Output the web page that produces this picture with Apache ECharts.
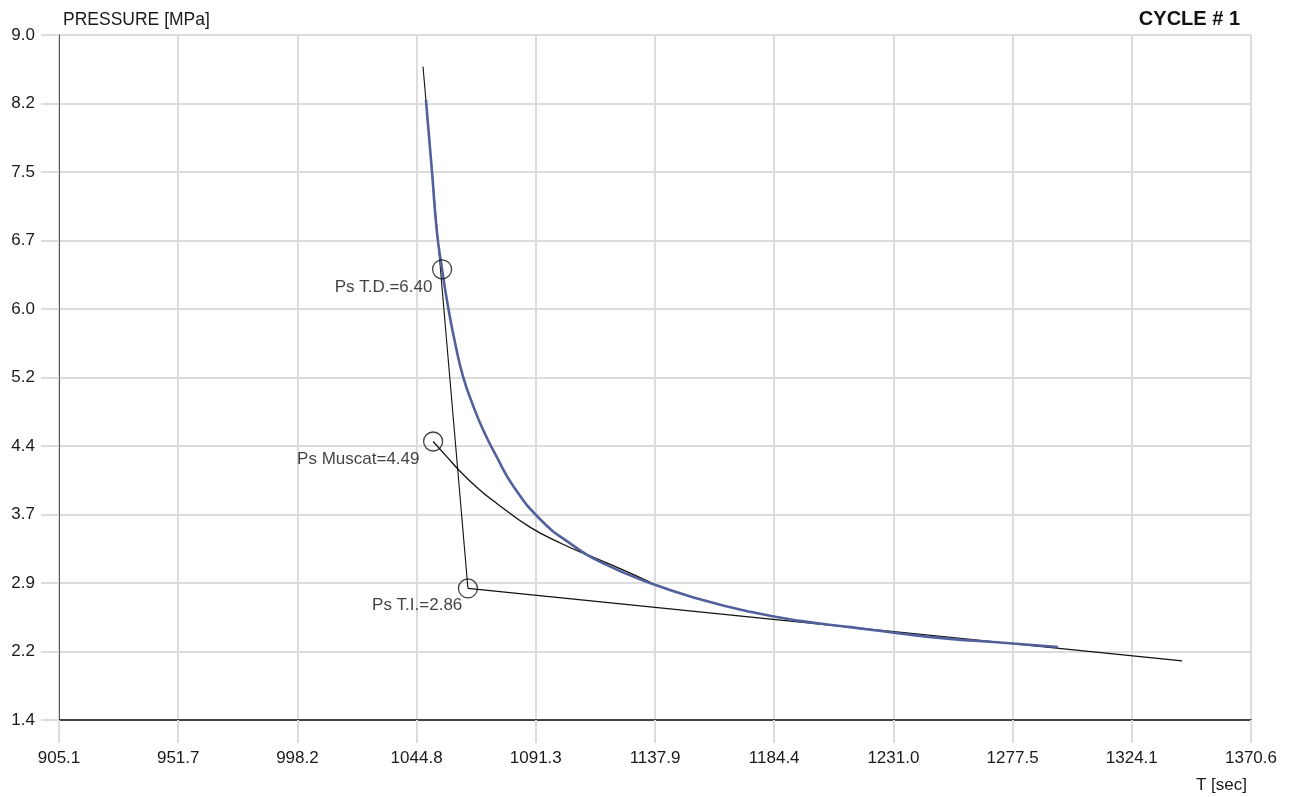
<!DOCTYPE html>
<html>
<head>
<meta charset="utf-8">
<script src="https://cdn.jsdelivr.net/npm/echarts@6/dist/echarts.min.js"></script>
<style>
  html, body { margin: 0; padding: 0; background: #ffffff; }
  #chart { width: 1300px; height: 797px; }
</style>
</head>
<body>
<div id="chart"></div>
<script>
// ---- axes: time [sec] and pressure [MPa] ----
const T_MIN = 905.1, T_MAX = 1370.6, T_STEP = 46.55;
const P_MIN = 1.4, P_MAX = 9.0, P_STEP = 0.76;
const xTickLabels = ['905.1', '951.7', '998.2', '1044.8', '1091.3', '1137.9', '1184.4', '1231.0', '1277.5', '1324.1', '1370.6'];
const yTickLabels = ['1.4', '2.2', '2.9', '3.7', '4.4', '5.2', '6.0', '6.7', '7.5', '8.2', '9.0'];

// ---- measured pressure decay after shut-in ----
const decayT = [1048.4, 1050.8, 1052.7, 1054.7, 1057.0, 1059.8, 1062.9, 1066.8, 1070.7, 1076.2, 1082.4, 1092.9, 1104.7, 1117.5, 1135.9, 1155.4, 1175.0, 1194.5, 1214.0, 1233.5, 1253.1, 1272.6, 1295.2];
const decayP = [8.28, 7.47, 6.81, 6.40, 5.99, 5.58, 5.21, 4.89, 4.62, 4.31, 4.00, 3.63, 3.36, 3.14, 2.92, 2.74, 2.60, 2.50, 2.43, 2.36, 2.30, 2.26, 2.21];

// ---- Muscat fit curve ----
const muscatT = [1051.2, 1056.6, 1061.7, 1069.1, 1076.2, 1089.0, 1101.9, 1112.5, 1124.2, 1135.9];
const muscatP = [4.49, 4.32, 4.16, 3.96, 3.80, 3.54, 3.35, 3.22, 3.08, 2.93];

// ---- straight lines: tangent through T.D. and late-time line from T.I. ----
const tdLineT = [1047.25, 1064.8];
const tdLineP = [8.65, 2.86];
const tiLineT = [1064.8, 1343.7];
const tiLineP = [2.86, 2.055];

// ---- picked closure pressures ----
const pickNames = ['Ps T.D.', 'Ps Muscat', 'Ps T.I.'];
const pickT = [1054.7, 1051.2, 1064.8];
const pickP = [6.40, 4.49, 2.86];

// pick a narrow face when the system has one
function hasFont(name) {
  const ctx = document.createElement('canvas').getContext('2d');
  const probe = 'Ps Muscat=4.49 0123456789';
  ctx.font = '20px monospace';
  const a = ctx.measureText(probe).width;
  ctx.font = '20px "' + name + '", monospace';
  const b = ctx.measureText(probe).width;
  return Math.abs(a - b) > 0.5;
}
const NARROW = hasFont('Liberation Sans Narrow');
const FONT = NARROW ? '"Liberation Sans Narrow", "Liberation Sans", Arial, sans-serif'
                    : '"Liberation Sans", Arial, sans-serif';
const FS = NARROW ? 20 : 17;
const FS_TITLE = NARROW ? 21 : 17.5;

// data are plotted relative to the axis origin so ticks start at the axis minimum
const toXY = (ts, ps) => ts.map((t, i) => [t - T_MIN, ps[i] - P_MIN]);

const GRID = { left: 59, right: 49, top: 35, bottom: 77 };
const LABEL_OFFSETS = [[0.5, 18], [-3.5, 17.5], [4.5, 17]];

const gridLine = { show: true, lineStyle: { color: '#dcdcdc', width: 2 } };

const option = {
  animation: false,
  backgroundColor: '#ffffff',
  grid: Object.assign({ show: true, borderColor: '#3a3a3a', borderWidth: 1, containLabel: false, outerBoundsMode: 'none' }, GRID),
  xAxis: {
    type: 'value',
    min: 0,
    max: +(T_MAX - T_MIN).toFixed(2),
    interval: T_STEP,
    axisLine: { show: true, lineStyle: { color: '#111', width: 1.5 } },
    axisTick: { show: true, length: 23, lineStyle: { color: '#dcdcdc', width: 2 } },
    splitLine: gridLine,
    axisLabel: {
      show: true, showMinLabel: true, showMaxLabel: true, hideOverlap: false,
      margin: 30, color: '#1a1a1a', fontFamily: FONT, fontSize: FS,
      formatter: v => xTickLabels[Math.round(v / T_STEP)]
    }
  },
  yAxis: {
    type: 'value',
    min: 0,
    max: +(P_MAX - P_MIN).toFixed(2),
    interval: P_STEP,
    axisLine: { show: true, lineStyle: { color: '#555', width: 1 } },
    axisTick: { show: true, length: 18, lineStyle: { color: '#dcdcdc', width: 2 } },
    splitLine: gridLine,
    axisLabel: {
      show: true, showMinLabel: true, showMaxLabel: true, hideOverlap: false,
      margin: 24, color: '#1a1a1a', fontFamily: FONT, fontSize: FS,
      formatter: v => yTickLabels[Math.round(v / P_STEP)]
    }
  },
  graphic: [
    { type: 'text', left: 63, top: 11, z: 10,
      style: { text: 'PRESSURE [MPa]', fill: '#1a1a1a', font: FS_TITLE + 'px ' + FONT } },
    { type: 'text', right: 60, top: 9, z: 10,
      style: { text: 'CYCLE # 1', fill: '#111', font: 'bold 20px "Liberation Sans", Arial, sans-serif' } },
    { type: 'text', right: 53, top: 777, z: 10,
      style: { text: 'T [sec]', fill: '#1a1a1a', font: FS + 'px ' + FONT } }
  ],
  series: [
    {
      name: 'Muscat', type: 'line', data: toXY(muscatT, muscatP),
      smooth: 0.5, showSymbol: false, z: 2,
      lineStyle: { color: '#111', width: 1.3 }
    },
    {
      name: 'T.D. tangent', type: 'line', data: toXY(tdLineT, tdLineP),
      showSymbol: false, z: 2, lineStyle: { color: '#111', width: 1.1 }
    },
    {
      name: 'T.I. line', type: 'line', data: toXY(tiLineT, tiLineP),
      showSymbol: false, z: 2, lineStyle: { color: '#111', width: 1.3 }
    },
    {
      name: 'Pressure', type: 'line', data: toXY(decayT, decayP),
      smooth: 0.5, showSymbol: false, z: 3,
      lineStyle: { color: '#52609b', width: 2.6 }
    },
    {
      name: 'Picks', type: 'scatter', z: 4,
      symbol: 'circle', symbolSize: 19,
      itemStyle: { color: 'rgba(0,0,0,0)', borderColor: '#111', borderWidth: 1.3 },
      data: pickT.map((t, i) => ({
        value: [t - T_MIN, pickP[i] - P_MIN],
        label: { offset: LABEL_OFFSETS[i] }
      })),
      label: {
        show: true, position: 'left', distance: 0,
        color: '#111', fontFamily: FONT, fontSize: FS,
        formatter: p => pickNames[p.dataIndex] + '=' + pickP[p.dataIndex].toFixed(2)
      }
    }
  ]
};

const chart = echarts.init(document.getElementById('chart'), null, { renderer: 'canvas' });
chart.setOption(option);
</script>
</body>
</html>
